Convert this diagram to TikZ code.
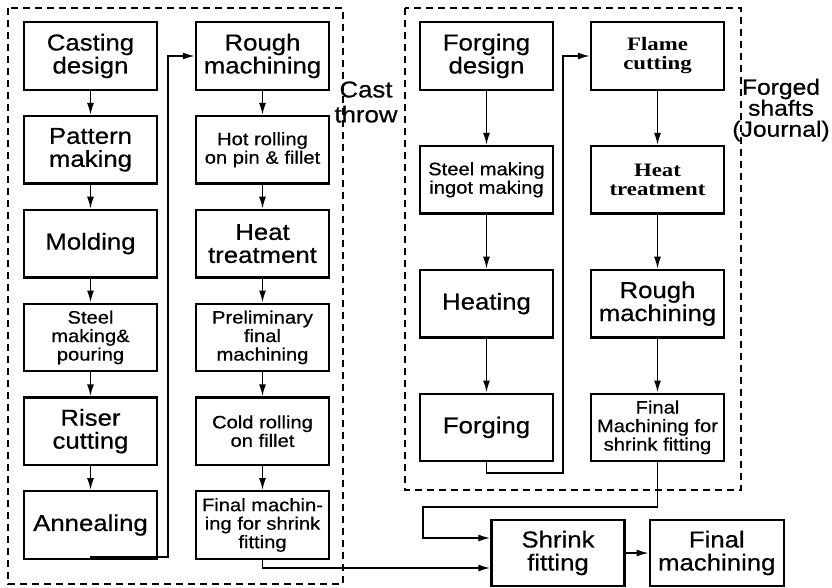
\documentclass[tikz,border=0pt]{standalone}
\usepackage{fontspec}
\setmainfont[FakeStretch=1.12,FakeBold=0.6]{Liberation Sans}
\newfontfamily\serbold[FakeStretch=1.2]{Liberation Serif}
\usetikzlibrary{chains,positioning,arrows.meta}
\newcommand{\bigtext}{\fontsize{23}{23}\selectfont}
\newcommand{\finetext}{\fontsize{18}{18.5}\selectfont}
\newcommand{\serftext}{\serbold\bfseries\fontsize{19}{19}\selectfont}
\tikzstyle{stage}=[draw,line width=2.3pt,minimum width=133pt,minimum height=67.5pt,inner sep=0pt,align=center,font=\bigtext]
\tikzstyle{fine}=[font=\finetext]
\tikzstyle{serf}=[font=\serftext]
\tikzstyle{flow}=[line width=1.7pt,-{Latex[length=12pt,width=7pt]}]
\tikzstyle{group}=[line width=2pt,dash pattern=on 7pt off 5pt]

\begin{document}
\begin{tikzpicture}[x=1pt,y=-1pt]
\useasboundingbox (0,0) rectangle (832,587);

% cast throw
\begin{scope}[start chain=castA going below, node distance=24pt]
    \node [on chain=castA,stage] (cdesign) at (90.5,56) {Casting\\design};
    \node [on chain=castA,stage] (pattern) {Pattern\\making};
    \node [on chain=castA,stage] (molding) {Molding};
    \node [on chain=castA,stage,fine] (pouring) {Steel\\making\&\\pouring};
    \node [on chain=castA,stage] (riser) {Riser\\cutting};
    \node [on chain=castA,stage] (anneal) {Annealing};
\end{scope}
\begin{scope}[start chain=castB going below, node distance=24pt]
    \node [on chain=castB,stage] (roughA) at (262.5,56) {Rough\\machining};
    \node [on chain=castB,stage,fine] (hotroll) {Hot rolling\\on pin \& fillet};
    \node [on chain=castB,stage] (heatA) {Heat\\treatment};
    \node [on chain=castB,stage,fine] (prelim) {Preliminary\\final\\machining};
    \node [on chain=castB,stage,fine] (coldroll) {Cold rolling\\on fillet};
    \node [on chain=castB,stage,fine] (finalA) {Final machin-\\ing for shrink\\fitting};
\end{scope}

% forged shafts
\begin{scope}[start chain=forgeC going below, node distance=54pt]
    \node [on chain=forgeC,stage] (fdesign) at (486.5,56) {Forging\\design};
    \node [on chain=forgeC,stage,fine] (ingot) {Steel making\\ingot making};
    \node [on chain=forgeC,stage] (heating) {Heating};
    \node [on chain=forgeC,stage] (forging) {Forging};
\end{scope}
\begin{scope}[start chain=forgeD going below, node distance=54pt]
    \node [on chain=forgeD,stage,serf] (flame) at (657.5,56) {Flame\\cutting};
    \node [on chain=forgeD,stage,serf] (heatB) {Heat\\treatment};
    \node [on chain=forgeD,stage] (roughB) {Rough\\machining};
    \node [on chain=forgeD,stage,fine] (finalB) {Final\\Machining for\\shrink fitting};
\end{scope}

\node [stage,minimum height=66pt] (shrink) at (558,553) {Shrink\\fitting};
\node [stage,minimum height=66pt,minimum width=134pt,right=23pt of shrink] (finalm) {Final\\machining};

\draw [group] (8,8) rectangle (343,584);
\draw [group] (405,8) rectangle (741,490);
\node [font=\fontsize{23}{25}\selectfont,align=center] (castlbl) at (366,102) {Cast\\throw};
\node [font=\fontsize{22}{21}\selectfont,align=center] (forgedlbl) at (781,110) {Forged\\shafts\\(Journal)};

\foreach \a/\b in {cdesign/pattern,pattern/molding,molding/pouring,pouring/riser,riser/anneal,
    roughA/hotroll,hotroll/heatA,heatA/prelim,prelim/coldroll,coldroll/finalA,
    fdesign/ingot,ingot/heating,heating/forging,
    flame/heatB,heatB/roughB,roughB/finalB}
    \draw [flow] (\a) -- (\b);

\coordinate (castturn) at (168,557);
\coordinate (forgeturn) at (563,473);
\coordinate (shaftturn) at (423,507);
\draw [flow] (anneal.south) |- (castturn) |- (roughA.west);
\draw [flow] (forging.south) |- (forgeturn) |- (flame.west);
\draw [flow] (finalB.south) |- (shaftturn) |- ([yshift=15pt]shrink.west);
\draw [flow] (finalA.south) |- ([yshift=-15pt]shrink.west);
\draw [flow] (shrink) -- (finalm);
\end{tikzpicture}
\end{document}
